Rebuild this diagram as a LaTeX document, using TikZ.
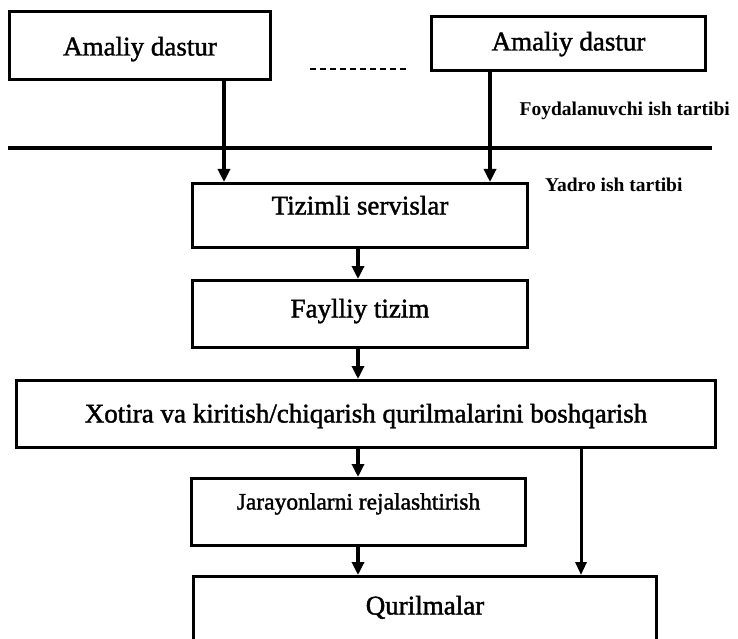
\documentclass[tikz,border=0pt]{standalone}
\usepackage{fontspec}
\setmainfont{Liberation Serif}
\newfontfamily\scanfont{Liberation Serif}[FakeBold=1.6]
\usetikzlibrary{arrows.meta}
\begin{document}
\begin{tikzpicture}[x=1pt,y=-1pt,
  blk/.style={draw, line width=3pt, inner sep=0pt, anchor=north west,
    font=\scanfont\fontsize{27}{30}\selectfont},
  flow/.style={line width=3.2pt, -{Triangle[length=13pt,width=12pt]}},
  sideflow/.style={line width=3pt, -{Triangle[length=13pt,width=11pt]}},
  lbl/.style={inner sep=0pt, font=\bfseries\fontsize{19.5}{22}\selectfont}]
\clip (0,0) rectangle (738,639);
\fill[white] (0,0) rectangle (738,639);

% application programs (user mode)
\node[blk, minimum width=261pt, text height=44pt, text depth=24pt] (app1) at (8,10) {Amaliy dastur};
\node[blk, minimum width=274pt, text height=34pt, text depth=20pt] (app2) at (430,15) {Amaliy dastur};
\coordinate (dotsL) at (310,69);
\coordinate (dotsR) at (407,69);
\draw[line width=2.2pt, dash pattern=on 6pt off 4pt] (dotsL) -- (dotsR);

% boundary between user mode and kernel mode
\coordinate (sepL) at (8,148);
\coordinate (sepR) at (712,148);
\draw[line width=3.4pt] (sepL) -- (sepR);
\node[lbl, anchor=base east] (user) at (730,116) {Foydalanuvchi ish tartibi};
\node[lbl, anchor=base west] (kernel) at (545,191) {Yadro ish tartibi};

% kernel layers
\node[blk, minimum width=335pt, text height=31pt, text depth=33pt] (svc) at (191,182) {Tizimli servislar};
\node[blk, minimum width=335pt, text height=37pt, text depth=30pt] (fs) at (191,279) {Faylliy tizim};
\node[blk, minimum width=699pt, text height=42pt, text depth=25pt] (io) at (15,379) {Xotira va kiritish/chiqarish qurilmalarini boshqarish};
\node[blk, minimum width=334pt, text height=31pt, text depth=36pt,
  font=\scanfont\fontsize{23.5}{26}\selectfont] (sched) at (190,477) {Jarayonlarni rejalashtirish};
\node[blk, minimum width=463pt, text height=38pt, text depth=70pt] (dev) at (192,575) {Qurilmalar};

% connectors
\coordinate (xl) at (224,0);
\coordinate (xr) at (490,0);
\coordinate (xm) at (358,0);
\coordinate (xq) at (581,0);
\draw[flow] (app1.south -| xl) -- (svc.north -| xl);
\draw[flow] (app2.south -| xr) -- (svc.north -| xr);
\draw[flow] (svc.south -| xm) -- (fs.north -| xm);
\draw[flow] (fs.south -| xm) -- (io.north -| xm);
\draw[flow] (io.south -| xm) -- (sched.north -| xm);
\draw[flow] (sched.south -| xm) -- (dev.north -| xm);
\draw[sideflow] (io.south -| xq) -- (dev.north -| xq);
\end{tikzpicture}
\end{document}
